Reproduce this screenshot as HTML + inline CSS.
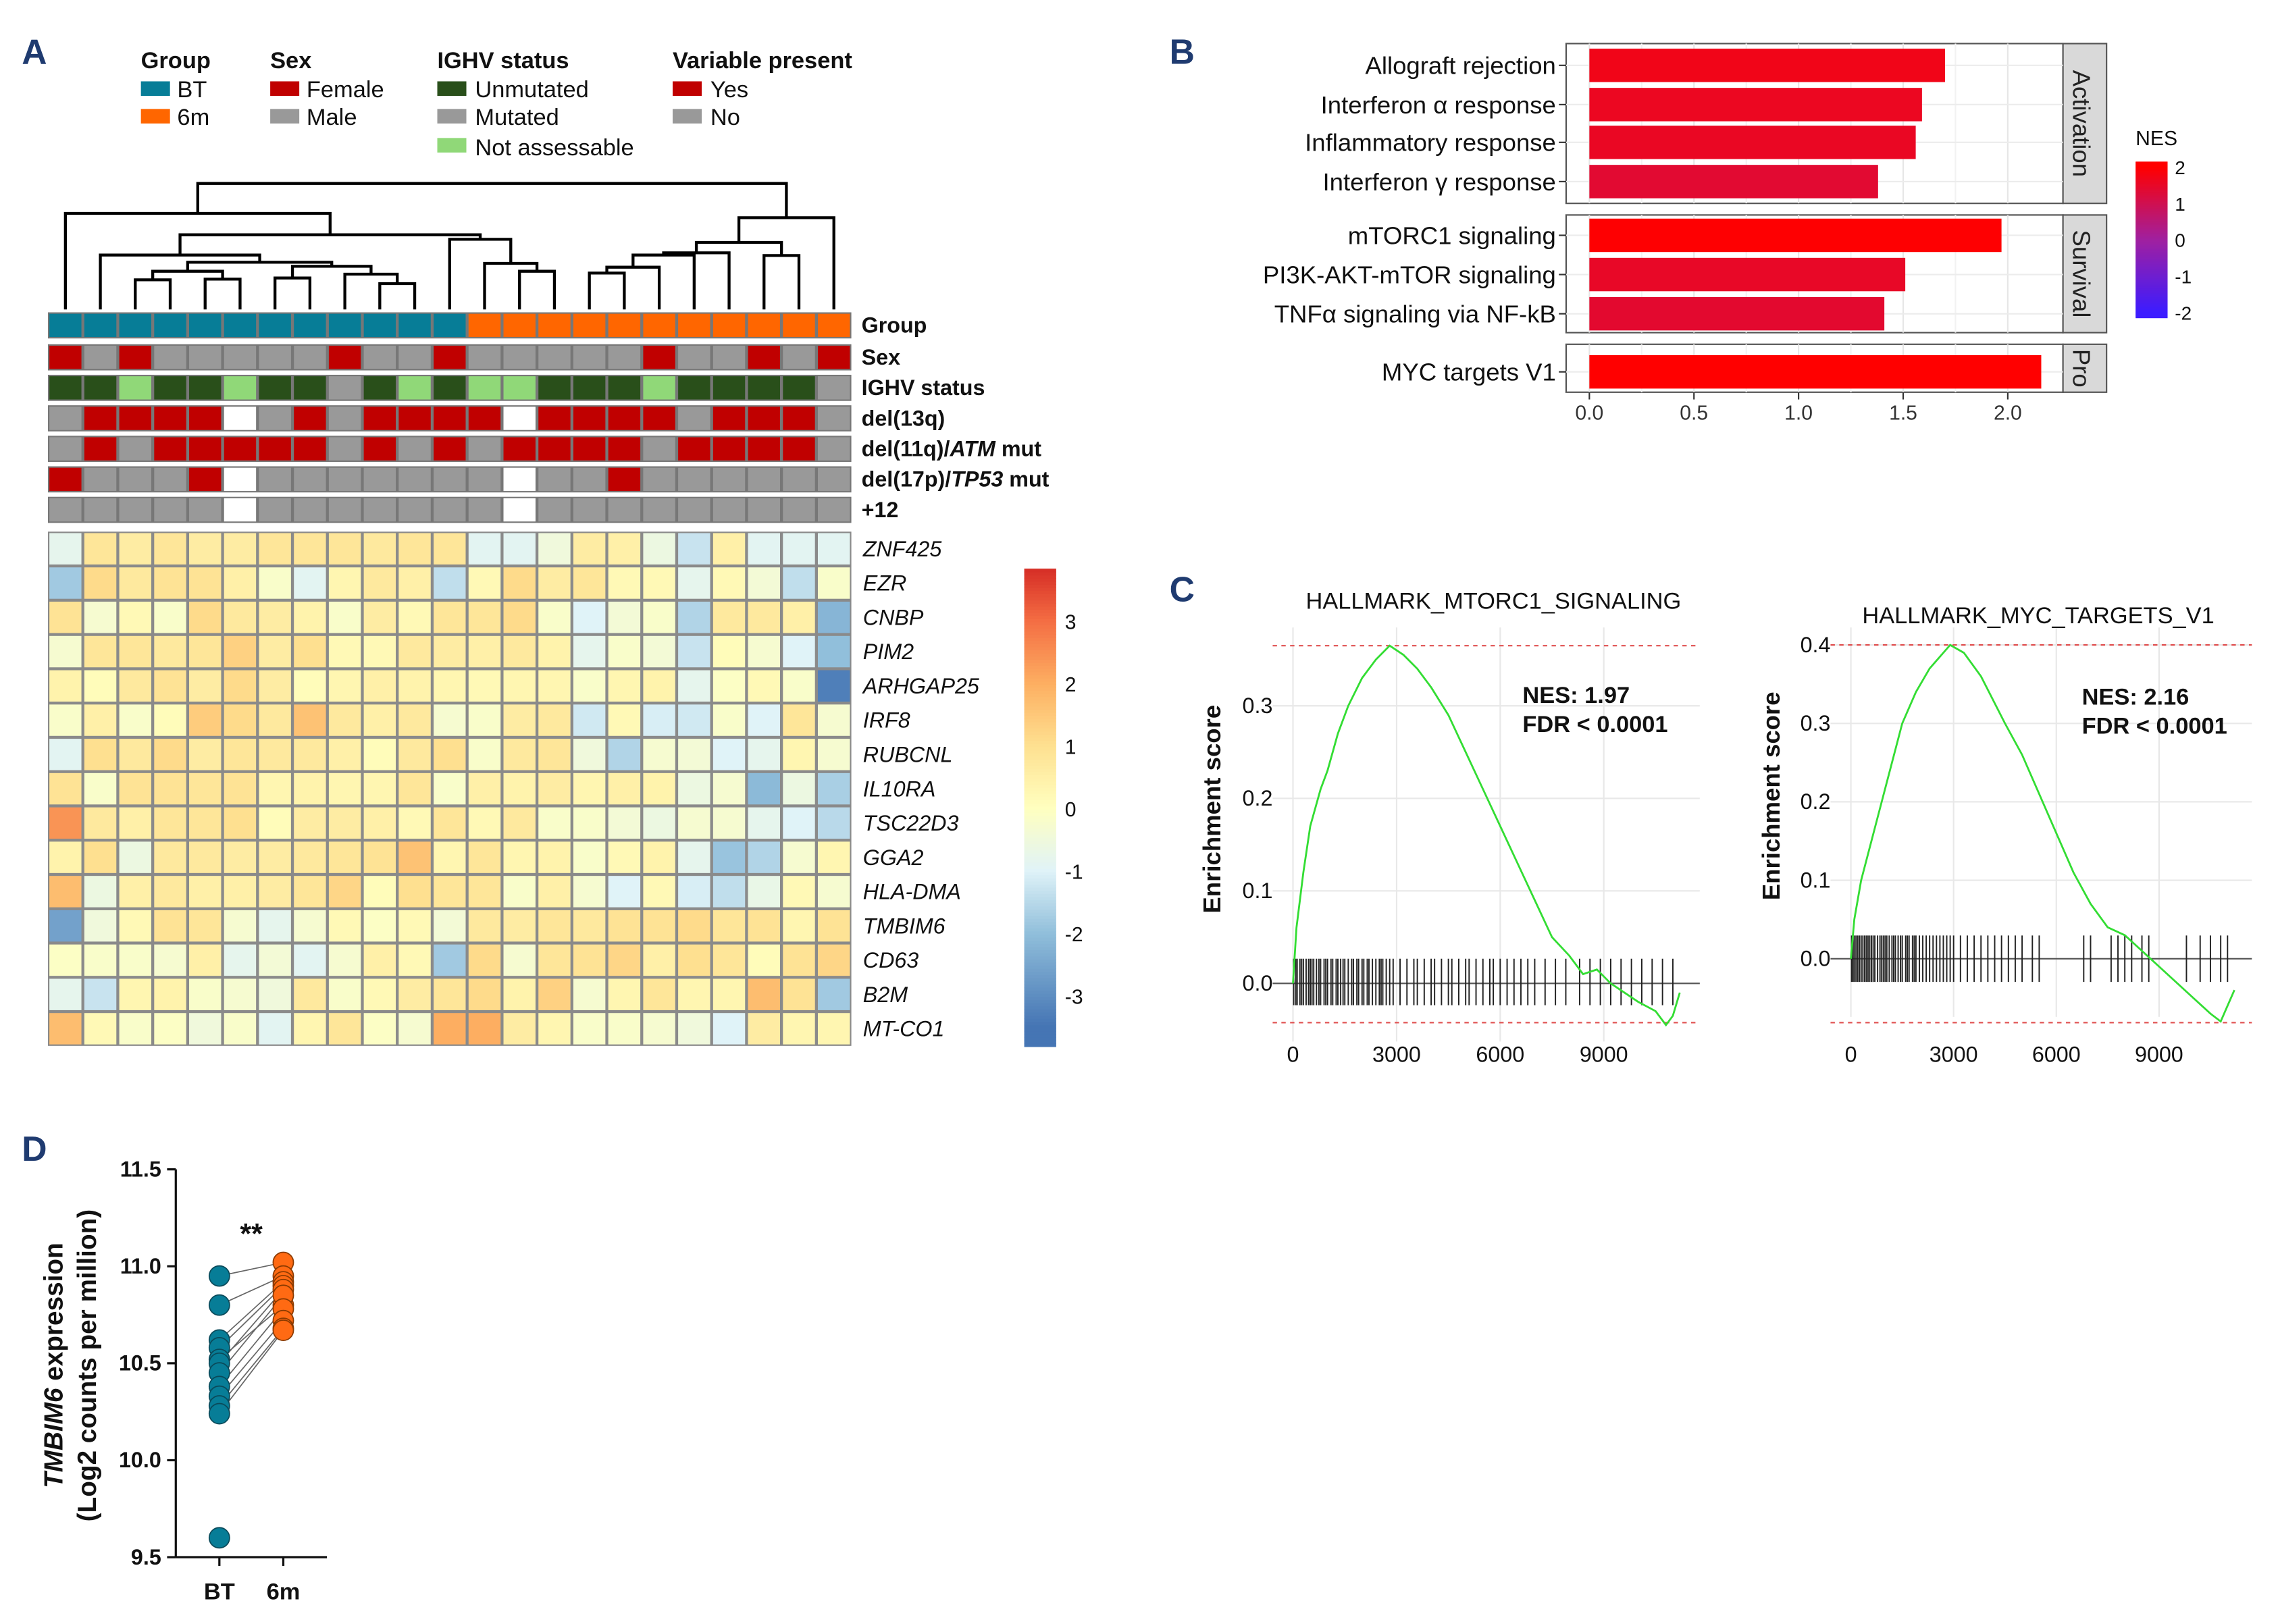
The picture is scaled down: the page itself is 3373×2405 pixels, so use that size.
<!DOCTYPE html>
<html><head><meta charset="utf-8"><style>
html,body{margin:0;padding:0;background:#fff}
svg{display:block;font-family:"Liberation Sans",Arial,sans-serif}
</style></head><body>
<svg id="fig" width="3373" height="2405" viewBox="0 0 1568 1118" preserveAspectRatio="none" xmlns="http://www.w3.org/2000/svg">
<rect width="1568" height="1118" fill="#fff"/>
<g font-weight="bold" font-size="24" fill="#1f3b70">
<text x="15" y="44">A</text>
<text x="805" y="44">B</text>
<text x="805" y="414">C</text>
<text x="15" y="799">D</text>
</g>
<g id="legendA" font-size="16" fill="#111">
<text x="97" y="47" font-weight="bold">Group</text>
<rect x="97" y="56" width="20" height="10" fill="#077d97"/><text x="122" y="67">BT</text>
<rect x="97" y="75" width="20" height="10" fill="#ff6600"/><text x="122" y="86">6m</text>
<text x="186" y="47" font-weight="bold">Sex</text>
<rect x="186" y="56" width="20" height="10" fill="#c00000"/><text x="211" y="67">Female</text>
<rect x="186" y="75" width="20" height="10" fill="#999"/><text x="211" y="86">Male</text>
<text x="301" y="47" font-weight="bold">IGHV status</text>
<rect x="301" y="56" width="20" height="10" fill="#294f1a"/><text x="327" y="67">Unmutated</text>
<rect x="301" y="75" width="20" height="10" fill="#999"/><text x="327" y="86">Mutated</text>
<rect x="301" y="95" width="20" height="10" fill="#90d878"/><text x="327" y="107">Not assessable</text>
<text x="463" y="47" font-weight="bold">Variable present</text>
<rect x="463" y="56" width="20" height="10" fill="#c00000"/><text x="489" y="67">Yes</text>
<rect x="463" y="75" width="20" height="10" fill="#999"/><text x="489" y="86">No</text>
</g>
<g id="dendro"></g>
<g id="annot"></g>
<g id="heat"></g>
<g id="cbarA"></g>
<g id="panelB"></g>
<g id="panelC"></g>
<g id="panelD"></g>
</svg>
<script>
const NS="http://www.w3.org/2000/svg";
function mk(parent,tag,attrs,text){const e=document.createElementNS(NS,tag);for(const k in attrs)e.setAttribute(k,attrs[k]);if(text!==undefined)e.textContent=text;parent.appendChild(e);return e;}
function hex(h){return [parseInt(h.substr(1,2),16),parseInt(h.substr(3,2),16),parseInt(h.substr(5,2),16)];}
function interp(stops,v){if(v<=stops[0][0])return stops[0][1];if(v>=stops[stops.length-1][0])return stops[stops.length-1][1];for(let i=0;i<stops.length-1;i++){const a=stops[i],b=stops[i+1];if(v>=a[0]&&v<=b[0]){const t=(v-a[0])/(b[0]-a[0]);const A=hex(a[1]),B=hex(b[1]);return 'rgb('+A.map((x,j)=>Math.round(x+(B[j]-x)*t)).join(',')+')';}}}

/* ---------- Panel A data ---------- */
const genes=["ZNF425","EZR","CNBP","PIM2","ARHGAP25","IRF8","RUBCNL","IL10RA","TSC22D3","GGA2","HLA-DMA","TMBIM6","CD63","B2M","MT-CO1"];
const zZNF425=[-0.8,0.8,0.6,0.8,0.6,0.6,0.8,0.8,0.8,0.7,0.8,0.8,-0.9,-0.9,-0.5,0.6,0.5,-0.6,-1.3,0.5,-0.9,-0.9,-0.9];
const zEZR=[-1.8,1.1,0.7,0.9,0.9,0.5,-0.2,-0.9,0.3,0.7,0.5,-1.4,0.2,1.1,0.6,0.8,0.2,0.2,-0.8,0.2,-0.4,-1.4,-0.2];
const zCNBP=[0.9,-0.3,0.2,-0.2,1.1,0.7,0.6,0.4,-0.2,0.6,0.2,0.8,0.8,1.1,-0.2,-1.0,-0.4,-0.2,-1.6,0.7,0.7,0.5,-2.2];
const zPIM2=[-0.3,0.8,0.8,0.7,0.8,1.3,0.6,1.0,0.2,0.2,0.7,0.6,0.5,0.7,0.4,-0.8,-0.2,-0.4,-1.3,0.1,-0.3,-1.0,-2.0];
const zARHGAP25=[0.4,0.1,0.7,0.9,0.6,1.1,0.6,0.1,0.3,0.5,0.4,0.3,0.2,0.3,0.3,-0.2,0.3,0.4,-0.8,-0.1,0.2,-0.2,-3.3];
const zIRF8=[-0.2,0.5,-0.2,0.1,1.4,1.1,0.7,1.6,0.7,0.5,0.7,-0.3,-0.2,0.6,0.7,-1.2,0.2,-1.1,-1.2,-0.2,-1.0,0.8,-0.3];
const zRUBCNL=[-0.9,1.0,0.7,1.1,0.6,0.8,0.7,0.7,0.5,0.1,0.7,1.0,-0.2,0.7,0.8,-0.5,-1.6,-0.3,-0.4,-1.0,-0.8,0.3,-0.3];
const zIL10RA=[0.9,-0.2,0.9,0.9,0.8,0.9,0.3,0.4,0.3,0.3,0.8,-0.2,0.5,0.4,0.6,0.3,0.5,0.4,-0.6,-0.3,-2.1,-0.6,-1.7];
const zTSC22D3=[2.4,0.7,0.5,0.8,0.8,1.0,0.1,0.6,0.6,0.5,0.2,0.8,0.2,0.7,-0.2,-0.2,-0.4,-0.6,-0.3,-0.3,-0.8,-1.0,-1.5];
const zGGA2=[0.4,1.0,-0.6,0.7,0.7,0.6,0.6,0.7,0.8,0.9,1.6,0.3,0.8,0.3,0.4,-0.2,0.2,0.4,-0.8,-1.9,-1.6,-0.3,0.3];
const zHLADMA=[1.7,-0.6,0.5,0.7,0.5,0.5,0.6,0.8,1.2,0.1,1.0,0.8,0.8,-0.2,0.5,-0.3,-1.0,0.2,-1.1,-1.4,-0.7,0.2,-0.3];
const zTMBIM6=[-2.6,-0.5,0.2,0.9,0.8,-0.3,-0.8,-0.3,0.2,-0.1,0.2,-0.4,0.7,0.6,0.8,0.7,0.9,0.9,1.1,0.8,0.9,0.3,0.9];
const zCD63=[-0.1,-0.2,-0.2,-0.3,0.5,-0.8,-0.4,-0.9,-0.3,0.5,0.2,-1.8,1.1,-0.3,0.8,0.9,1.2,0.5,1.0,0.8,0.1,0.9,1.2];
const zB2M=[-0.8,-1.3,0.3,0.4,-0.2,-0.3,-0.5,0.7,-0.2,0.2,0.6,0.8,1.1,0.4,1.3,-0.3,0.3,0.8,0.3,0.3,1.7,0.9,-1.8];
const zMTCO1=[1.7,0.2,-0.2,-0.1,-0.5,-0.2,-0.9,0.3,0.8,-0.1,-0.3,2.0,2.0,0.6,0.3,-0.2,-0.2,-0.3,-0.5,-1.0,0.6,0.3,0.3];
const heatRows=[zZNF425,zEZR,zCNBP,zPIM2,zARHGAP25,zIRF8,zRUBCNL,zIL10RA,zTSC22D3,zGGA2,zHLADMA,zTMBIM6,zCD63,zB2M,zMTCO1];
const annGroup=[0,0,0,0,0,0,0,0,0,0,0,0,1,1,1,1,1,1,1,1,1,1,1];
const annSex=[1,0,1,0,0,0,0,0,1,0,0,1,0,0,0,0,0,1,0,0,1,0,1];
const annIGHV=[0,0,2,0,0,2,0,0,1,0,2,0,2,2,0,0,0,2,0,0,0,0,1];
const annDel13q=[0,1,1,1,1,-1,0,1,0,1,1,1,1,-1,1,1,1,1,0,1,1,1,0];
const annDel11q=[0,1,0,1,1,1,1,1,0,1,0,1,0,1,1,1,1,0,1,1,1,1,0];
const annDel17p=[1,0,0,0,1,-1,0,0,0,0,0,0,0,-1,0,0,1,0,0,0,0,0,0];
const annTri12=[0,0,0,0,0,-1,0,0,0,0,0,0,0,-1,0,0,0,0,0,0,0,0,0];
const cbarTicks=[3,2,1,0,-1,-2,-3];
const dendroMerges=[[2,3,478],[4,5,475],[23,24,440],[6,7,470],[9,10,495],[8,27,453],[26,28,418],[25,29,400],[1,30,368],[13,14,440],[12,32,405],[11,33,298],[31,34,278],[0,35,183],[15,16,448],[37,17,422],[38,18,368],[39,19,358],[20,21,370],[40,41,312],[42,22,202],[36,43,50]];

const HX0=33,HW=553,nCol=23,CW=HW/nCol,HY0=366,RH=23.6;
const colX=i=>HX0+CW*i;
const colC=i=>HX0+CW*(i+0.5);
const heatStops=[[-3.5,'#4575b4'],[-2,'#91bfdb'],[-1,'#e0f3f8'],[0,'#ffffbf'],[1,'#fee090'],[2,'#fdae61'],[3,'#f46d43'],[3.8,'#d73027']];

// dendrogram
(function(){const g=document.getElementById('dendro');const nx=[],ny=[];for(let i=0;i<nCol;i++){nx[i]=colC(i);ny[i]=213;}
const hy=z=>118.55+z/6.453;
dendroMerges.forEach((m,k)=>{const id=nCol+k;const a=m[0],b=m[1],y=hy(m[2]);
const p=mk(g,'path',{d:`M${nx[a]},${ny[a]}V${y}H${nx[b]}V${ny[b]}`,fill:'none',stroke:'#000','stroke-width':2});


nx[id]=(nx[a]+nx[b])/2;ny[id]=y;});})();

// annotations
(function(){const g=document.getElementById('annot');
const rows=[["Group",annGroup,v=>v?'#ff6600':'#077d97',false],["Sex",annSex,v=>v?'#c00000':'#999',false],["IGHV status",annIGHV,v=>['#294f1a','#999','#90d878'][v],false],["del(13q)",annDel13q,v=>v<0?'#fff':v?'#c00000':'#999',false],["del(11q)/ATM mut",annDel11q,v=>v<0?'#fff':v?'#c00000':'#999',true],["del(17p)/TP53 mut",annDel17p,v=>v<0?'#fff':v?'#c00000':'#999',true],["+12",annTri12,v=>v<0?'#fff':v?'#c00000':'#999',false]];
const ys=[215,237,258,279,300,321,342];
rows.forEach((r,ri)=>{const y=ys[ri];
const bg=mk(g,'rect',{x:HX0,y:y,width:HW,height:18,fill:'#777'});


r[1].forEach((v,i)=>{const c=mk(g,'rect',{x:colX(i)+1,y:y+1,width:CW-2,height:16,fill:r[2](v)});

});
const t=mk(g,'text',{x:593,y:y+14,'font-size':15,'font-weight':'bold',fill:'#111'});


if(r[3]){const parts=r[0].split('/');t.appendChild(document.createTextNode(parts[0]+'/'));const w=parts[1].split(' ');mk(t,'tspan',{'font-style':'italic'},w[0]);t.appendChild(document.createTextNode(' '+w[1]));}
else t.textContent=r[0];});})();

// heatmap
(function(){const g=document.getElementById('heat');
mk(g,'rect',{x:HX0,y:HY0,width:HW,height:RH*15,fill:'#8a8a8a'});
heatRows.forEach((row,r)=>{row.forEach((v,i)=>{const c=mk(g,'rect',{x:colX(i)+1,y:HY0+RH*r+1,width:CW-2,height:RH-2,fill:interp(heatStops,v)});

});
const t=mk(g,'text',{x:594,y:HY0+RH*r+17,'font-size':15,'font-style':'italic',fill:'#111'},genes[r]);

});})();

// colorbar A
(function(){const g=document.getElementById('cbarA');const y0=557,u=43;
for(let v=-3.8;v<3.8;v+=0.05){mk(g,'rect',{x:705,y:y0-(v+0.05)*u,width:22,height:u*0.05+0.4,fill:interp(heatStops,v)});}
cbarTicks.forEach(t=>{const e=mk(g,'text',{x:733,y:y0-t*u+5,'font-size':14,fill:'#111'},String(t));

});})();

/* ---------- Panel B data ---------- */
const pathways=["Allograft rejection","Interferon \u03b1 response","Inflammatory response","Interferon \u03b3 response","mTORC1 signaling","PI3K-AKT-mTOR signaling","TNF\u03b1 signaling via NF-kB","MYC targets V1"];
const nesValues=[1.70,1.59,1.56,1.38,1.97,1.51,1.41,2.16];
const facetOf=[0,0,0,0,1,1,1,2];
const facetNames=["Activation","Survival","Pro"];
const nesTicks=[0,0.5,1.0,1.5,2.0];
const nesLegendTicks=[2,1,0,-1,-2];
(function(){const g=document.getElementById('panelB');
const xs=v=>1094+v*144;const nesStops=[[-2,'#3c1cff'],[0,'#a020a0'],[2,'#ff0000']];
const facets=[[30,140],[148,229],[237,270]];
facets.forEach((f,k)=>{mk(g,'rect',{x:1078,y:f[0],width:342,height:f[1]-f[0],fill:'#fff',stroke:'#555','stroke-width':1});
nesTicks.forEach(t=>mk(g,'line',{x1:xs(t),x2:xs(t),y1:f[0],y2:f[1],stroke:'#e6e6e6'}));
[0.25,0.75,1.25,1.75].forEach(t=>mk(g,'line',{x1:xs(t),x2:xs(t),y1:f[0],y2:f[1],stroke:'#f2f2f2'}));
const s=mk(g,'rect',{x:1420,y:f[0],width:30,height:f[1]-f[0],fill:'#d9d9d9',stroke:'#555'});


const cy=(f[0]+f[1])/2;const t=mk(g,'text',{x:1427,y:cy,'font-size':17,fill:'#222','text-anchor':'middle',transform:`rotate(90 1427 ${cy})`},facetNames[k]);

});
const rowY=[45,72,98,125,162,189,216,256];
pathways.forEach((p,i)=>{const y=rowY[i];
mk(g,'line',{x1:1078,x2:1420,y1:y,y2:y,stroke:'#ececec'});
const b=mk(g,'rect',{x:xs(0),y:y-11.5,width:xs(nesValues[i])-xs(0),height:23,fill:interp(nesStops,nesValues[i])});


mk(g,'line',{x1:1073,x2:1078,y1:y,y2:y,stroke:'#333'});
const t=mk(g,'text',{x:1071,y:y+6,'font-size':17,'text-anchor':'end',fill:'#111'},p);

});
nesTicks.forEach(v=>{mk(g,'line',{x1:xs(v),x2:xs(v),y1:270,y2:275,stroke:'#333'});
const t=mk(g,'text',{x:xs(v),y:289,'font-size':14,'text-anchor':'middle',fill:'#333'},v.toFixed(1));

});
const lt=mk(g,'text',{x:1470,y:100,'font-size':14,fill:'#111'},'NES');


const ly=v=>165-v*25;
for(let v=-2.15;v<2.15;v+=0.02){mk(g,'rect',{x:1470,y:ly(v+0.02),width:22,height:0.02*25+0.3,fill:interp(nesStops,v)});}
nesLegendTicks.forEach(v=>{const t=mk(g,'text',{x:1497,y:ly(v)+5,'font-size':13,fill:'#111'},String(v));

});})();

/* ---------- Panel C data ---------- */
const esMtorcRank=[0,0.1,0.3,0.5,0.8,1.0,1.3,1.6,2.0,2.4,2.8,3.2,3.6,4.0,4.5,5.0,5.5,6.0,6.5,7.0,7.5,8.0,8.4,8.8,9.2,9.6,10.0,10.5,10.8,11.0,11.2];
const esMtorcScore=[0,0.06,0.12,0.17,0.21,0.23,0.27,0.30,0.33,0.35,0.365,0.355,0.34,0.32,0.29,0.25,0.21,0.17,0.13,0.09,0.05,0.03,0.01,0.015,0.0,-0.01,-0.02,-0.03,-0.045,-0.035,-0.01];
const hitsMtorc=[0.02,0.08,0.12,0.2,0.25,0.3,0.38,0.45,0.5,0.55,0.6,0.68,0.75,0.8,0.9,0.95,1.0,1.1,1.15,1.25,1.3,1.38,1.45,1.5,1.6,1.7,1.75,1.85,1.9,2.0,2.05,2.15,2.2,2.3,2.4,2.5,2.55,2.6,2.7,2.8,2.9,3.1,3.3,3.5,3.6,3.8,4.0,4.1,4.3,4.5,4.6,4.8,5.0,5.1,5.3,5.5,5.7,5.8,6.0,6.2,6.4,6.6,6.8,7.0,7.3,7.6,7.9,8.3,8.6,8.9,9.2,9.5,9.8,10.1,10.4,10.7,11.0];
const esMycRank=[0,0.1,0.3,0.6,0.9,1.2,1.5,1.9,2.3,2.9,3.3,3.8,4.5,5.0,5.5,6.0,6.5,7.0,7.5,8.0,8.5,9.0,9.5,10.0,10.5,10.8,11.0,11.2];
const esMycScore=[0,0.05,0.10,0.15,0.20,0.25,0.30,0.34,0.37,0.40,0.39,0.36,0.30,0.26,0.21,0.16,0.11,0.07,0.04,0.03,0.01,-0.01,-0.03,-0.05,-0.07,-0.08,-0.06,-0.04];
const hitsMyc=[0.02,0.06,0.1,0.15,0.2,0.25,0.3,0.35,0.4,0.45,0.5,0.55,0.6,0.65,0.7,0.78,0.85,0.9,0.95,1.0,1.05,1.12,1.2,1.25,1.3,1.38,1.45,1.5,1.6,1.65,1.7,1.8,1.85,1.9,2.0,2.1,2.2,2.3,2.4,2.5,2.6,2.7,2.8,2.9,3.0,3.2,3.4,3.6,3.8,4.0,4.2,4.4,4.6,4.8,5.0,5.3,5.5,6.8,7.0,7.6,7.8,8.0,8.2,8.5,8.7,9.8,10.2,10.5,10.8,11.0];
const gseaXTicks=[0,3000,6000,9000];
const mtorcYTicks=[0.0,0.1,0.2,0.3];
const mycYTicks=[0.0,0.1,0.2,0.3,0.4];
function gsea(g,cfg){const xs=v=>cfg.x0+v*cfg.xu;const ys=v=>cfg.y0-v*cfg.yu;
cfg.yt.forEach(v=>{mk(g,'line',{x1:cfg.left,x2:cfg.right,y1:ys(v),y2:ys(v),stroke:'#e8e8e8'});
const t=mk(g,'text',{x:cfg.x0-14,y:ys(v)+5,'font-size':15,'text-anchor':'end',fill:'#111'},v.toFixed(1));

});
gseaXTicks.forEach(v=>{mk(g,'line',{x1:xs(v/1000),x2:xs(v/1000),y1:cfg.top,y2:cfg.y0+40,stroke:'#e8e8e8'});
const t=mk(g,'text',{x:xs(v/1000),y:731,'font-size':15,'text-anchor':'middle',fill:'#111'},String(v));

});
mk(g,'line',{x1:cfg.left,x2:cfg.right,y1:ys(cfg.max),y2:ys(cfg.max),stroke:'#e05050','stroke-dasharray':'3,3'});
mk(g,'line',{x1:cfg.left,x2:cfg.right,y1:704,y2:704,stroke:'#e05050','stroke-dasharray':'3,3'});
mk(g,'line',{x1:cfg.left,x2:cfg.right,y1:ys(0),y2:ys(0),stroke:'#555'});
cfg.hits.forEach(h=>{const l=mk(g,'line',{x1:xs(h),x2:xs(h),y1:cfg.rug[0],y2:cfg.rug[1],stroke:'#222','stroke-width':0.9});

});
const p=mk(g,'polyline',{points:cfg.rank.map((r,i)=>xs(r)+','+ys(cfg.es[i])).join(' '),fill:'none',stroke:'#33dd33','stroke-width':1.3});


const t1=mk(g,'text',{x:cfg.tx,y:cfg.ty,'font-size':16,'text-anchor':'middle',fill:'#111'},cfg.title);


const n1=mk(g,'text',{x:cfg.nx,y:cfg.ny,'font-size':16,'font-weight':'bold',fill:'#111'},cfg.nes);


const n2=mk(g,'text',{x:cfg.nx,y:cfg.ny+20,'font-size':16,'font-weight':'bold',fill:'#111'},'FDR < 0.0001');


const yl=mk(g,'text',{x:cfg.ylx,y:cfg.yly,'font-size':17,'font-weight':'bold','text-anchor':'middle',fill:'#111',transform:`rotate(-90 ${cfg.ylx} ${cfg.yly})`},'Enrichment score');

}
(function(){const g=document.getElementById('panelC');
gsea(g,{x0:890,xu:23.77,y0:677,yu:637,left:876,right:1170,top:432,yt:mtorcYTicks,max:0.365,hits:hitsMtorc,rug:[660,692],rank:esMtorcRank,es:esMtorcScore,title:'HALLMARK_MTORC1_SIGNALING',tx:1028,ty:419,nx:1048,ny:484,nes:'NES: 1.97',ylx:840,yly:557});
gsea(g,{x0:1274,xu:23.57,y0:660,yu:540,left:1260,right:1550,top:432,yt:mycYTicks,max:0.4,hits:hitsMyc,rug:[644,676],rank:esMycRank,es:esMycScore,title:'HALLMARK_MYC_TARGETS_V1',tx:1403,ty:429,nx:1433,ny:485,nes:'NES: 2.16',ylx:1225,yly:548});})();

/* ---------- Panel D data ---------- */
const tmbBT=[10.95,10.80,10.62,10.58,10.52,10.50,10.45,10.38,10.33,10.28,10.24,9.60];
const tmb6m=[11.02,10.95,10.92,10.90,10.80,10.88,10.85,10.78,10.72,10.68,10.67];
const tmbTicks=[9.5,10.0,10.5,11.0,11.5];
const tmbGroups=["BT","6m"];
(function(){const g=document.getElementById('panelD');const ys=v=>1072-(v-9.5)*133.5;const gx=[151,195];
mk(g,'line',{x1:121,x2:121,y1:805,y2:1072,stroke:'#111','stroke-width':1.5});
mk(g,'line',{x1:121,x2:225,y1:1072,y2:1072,stroke:'#111','stroke-width':1.5});
tmbTicks.forEach(v=>{mk(g,'line',{x1:115,x2:121,y1:ys(v),y2:ys(v),stroke:'#111','stroke-width':1.5});
const t=mk(g,'text',{x:111,y:ys(v)+5,'font-size':15,'font-weight':'bold','text-anchor':'end',fill:'#111'},v.toFixed(1));

});
tmbGroups.forEach((n,i)=>{mk(g,'line',{x1:gx[i],x2:gx[i],y1:1072,y2:1078,stroke:'#111','stroke-width':1.5});
const t=mk(g,'text',{x:gx[i],y:1101,'font-size':16,'font-weight':'bold','text-anchor':'middle',fill:'#111'},n);

});
tmb6m.forEach((v,i)=>{const l=mk(g,'line',{x1:gx[0],y1:ys(tmbBT[i]),x2:gx[1],y2:ys(v),stroke:'#666','stroke-width':0.8});

});
tmbBT.forEach(v=>{const c=mk(g,'circle',{cx:gx[0],cy:ys(v),r:7,fill:'#077d97',stroke:'#0a4a5a','stroke-width':0.8});

});
tmb6m.forEach(v=>{const c=mk(g,'circle',{cx:gx[1],cy:ys(v),r:7,fill:'#ff6a13',stroke:'#8a3a00','stroke-width':0.8});

});
const s=mk(g,'text',{x:173,y:856,'font-size':20,'font-weight':'bold','text-anchor':'middle',fill:'#111'},'**');


const y1=mk(g,'text',{x:43,y:940,'font-size':18,'font-weight':'bold','text-anchor':'middle',fill:'#111',transform:'rotate(-90 43 940)'});


mk(y1,'tspan',{'font-style':'italic'},'TMBIM6');y1.appendChild(document.createTextNode(' expression'));
const y2=mk(g,'text',{x:66,y:940,'font-size':18,'font-weight':'bold','text-anchor':'middle',fill:'#111',transform:'rotate(-90 66 940)'},'(Log2 counts per million)');

})();
</script>
</body></html>
